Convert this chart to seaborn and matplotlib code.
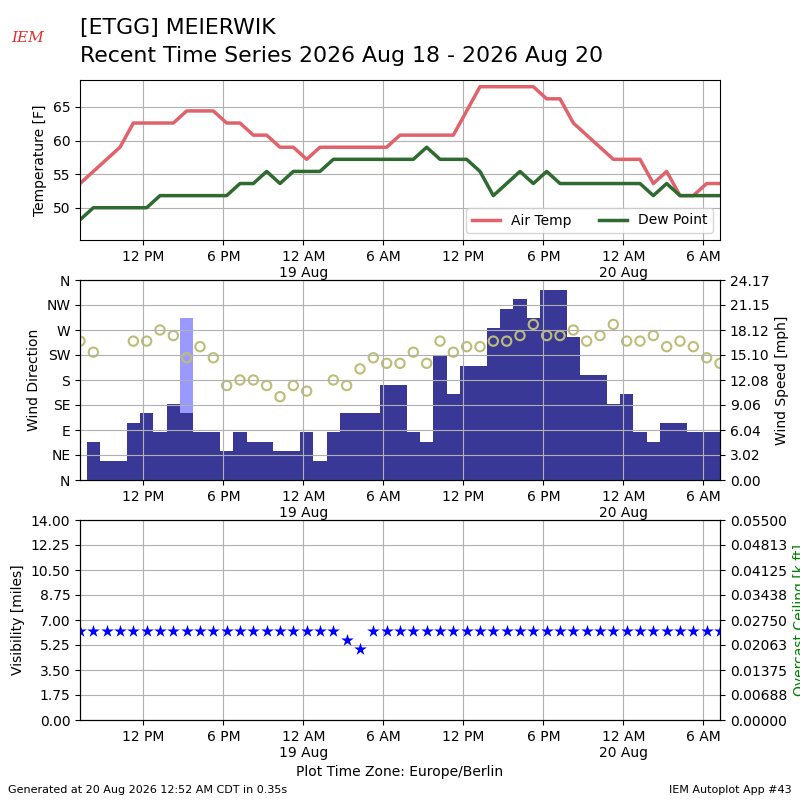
import matplotlib
matplotlib.use("Agg")
import matplotlib.pyplot as plt
import matplotlib.dates as mdates
from matplotlib.ticker import FuncFormatter, FormatStrFormatter
import seaborn as sns
import numpy as np
import pandas as pd

# hourly observations, local time (Europe/Berlin)
valid = pd.date_range("2026-08-18 07:15", periods=49, freq="h")

tmpf = [53.6, 55.4, 57.2, 59.0, 62.6, 62.6, 62.6, 62.6, 64.4, 64.4,
        64.4, 62.6, 62.6, 60.8, 60.8, 59.0, 59.0, 57.2, 59.0, 59.0,
        59.0, 59.0, 59.0, 59.0, 60.8, 60.8, 60.8, 60.8, 60.8, 64.4,
        68.0, 68.0, 68.0, 68.0, 68.0, 66.2, 66.2, 62.6, 60.8, 59.0,
        57.2, 57.2, 57.2, 53.6, 55.4, 51.8, 51.8, 53.6, 53.6]
dwpf = [48.2, 50.0, 50.0, 50.0, 50.0, 50.0, 51.8, 51.8, 51.8, 51.8,
        51.8, 51.8, 53.6, 53.6, 55.4, 53.6, 55.4, 55.4, 55.4, 57.2,
        57.2, 57.2, 57.2, 57.2, 57.2, 57.2, 59.0, 57.2, 57.2, 57.2,
        55.4, 51.8, 53.6, 55.4, 53.6, 55.4, 53.6, 53.6, 53.6, 53.6,
        53.6, 53.6, 53.6, 51.8, 53.6, 51.8, 51.8, 51.8, 51.8]

# wind speed / gust in knots, direction in degrees (nan = variable)
sknt = [0, 4, 2, 2, 6, 7, 5, 8, 7, 5,
        5, 3, 5, 4, 4, 3, 3, 5, 2, 5,
        7, 7, 7, 10, 10, 5, 4, 13, 9, 12,
        12, 16, 18, 19, 17, 20, 20, 15, 11, 11,
        8, 9, 5, 4, 6, 6, 5, 5, 5]
gust = [np.nan] * 8 + [17] + [np.nan] * 40
drct = [250, 230, np.nan, np.nan, 250, 250, 270, 260, 220, 240,
        220, 170, 180, 180, 170, 150, 170, 160, np.nan, 180,
        170, 200, 220, 210, 210, 230, 210, 250, 230, 240,
        240, 250, 250, 260, 280, 260, 260, 270, 250, 260,
        280, 250, 250, 260, 240, 250, 240, 220, 210]

vsby = [6.21] * 20 + [5.59, 4.97] + [6.21] * 27

df = pd.DataFrame({"valid": valid, "tmpf": tmpf, "dwpf": dwpf,
                   "smph": np.array(sknt) * 1.15078,
                   "gmph": np.array(gust) * 1.15078,
                   "drct": drct, "vsby": vsby})


def hourfmt(x, pos=None):
    dt = mdates.num2date(x)
    if dt.hour == 0:
        return "12 AM\n" + dt.strftime("%d %b")
    return dt.strftime("%-I %p")


def timeaxis(ax):
    ax.xaxis.set_major_locator(mdates.HourLocator(byhour=[0, 6, 12, 18]))
    ax.xaxis.set_major_formatter(FuncFormatter(hourfmt))
    ax.set_xlim(valid[0], valid[-1])
    ax.set_xlabel("")


fig = plt.figure(figsize=(8, 8), dpi=100)

fig.text(0.1, 0.965, "[ETGG] MEIERWIK", fontsize=15.8, va="center")
fig.text(0.1, 0.93, "Recent Time Series 2026 Aug 18 - 2026 Aug 20",
         fontsize=15.8, va="center")
fig.text(0.035, 0.952, "IEM", color="#e03030", fontsize=11,
         style="italic", family="serif", ha="center", va="center")
fig.text(0.01, 0.013, "Generated at 20 Aug 2026 12:52 AM CDT in 0.35s",
         fontsize=8, va="center")
fig.text(0.99, 0.013, "IEM Autoplot App #43", fontsize=8, ha="right",
         va="center")

# temperature
ax = fig.add_axes([0.1, 0.7, 0.8, 0.2])
sns.lineplot(data=df, x="valid", y="tmpf", ax=ax, color="#e0626a",
             lw=2.5, label="Air Temp")
sns.lineplot(data=df, x="valid", y="dwpf", ax=ax, color="#2f6a30",
             lw=2.5, label="Dew Point")
ax.set_ylim(min(dwpf) - 3, max(tmpf) + 1)
ax.set_yticks([50, 55, 60, 65])
ax.set_ylabel("Temperature [F]")
ax.grid(True)
ax.legend(loc="lower right", ncol=2)
timeaxis(ax)

# wind
ax2 = fig.add_axes([0.1, 0.4, 0.8, 0.25])
ax2b = ax2.twinx()
ax2.set_zorder(ax2b.get_zorder() + 1)
ax2.patch.set_visible(False)
ax2b.bar(df["valid"], df["gmph"], width=1 / 24., color="#9999ff")
ax2b.bar(df["valid"], df["smph"], width=1 / 24., color="#3a3897")
top = df["smph"].max() * 1.05
ax2b.set_ylim(0, top)
ax2b.set_yticks(np.linspace(0, top, 9))
ax2b.yaxis.set_major_formatter(FormatStrFormatter("%.2f"))
ax2b.set_ylabel("Wind Speed [mph]")
sns.scatterplot(data=df, x="valid", y="drct", ax=ax2, marker="o", s=45,
                facecolor="none", edgecolor="#bdbd78", linewidth=1.5)
ax2.set_ylim(0, 360)
ax2.set_yticks(range(0, 361, 45))
ax2.set_yticklabels(["N", "NE", "E", "SE", "S", "SW", "W", "NW", "N"])
ax2.set_ylabel("Wind Direction")
ax2.grid(True)
timeaxis(ax2)
timeaxis(ax2b)

# visibility
ax3 = fig.add_axes([0.1, 0.1, 0.8, 0.25])
sns.scatterplot(data=df, x="valid", y="vsby", ax=ax3, marker="*", s=90,
                color="b", edgecolor="b", linewidth=0, zorder=3)
ax3.set_ylim(0, 14)
ax3.set_yticks(np.linspace(0, 14, 9))
ax3.yaxis.set_major_formatter(FormatStrFormatter("%.2f"))
ax3.set_ylabel("Visibility [miles]")
ax3.grid(True)
timeaxis(ax3)
ax3.set_xlabel("Plot Time Zone: Europe/Berlin")
ax3b = ax3.twinx()
ax3b.set_ylim(0, 0.055)
ax3b.set_yticks(np.linspace(0, 0.055, 9))
ax3b.yaxis.set_major_formatter(FormatStrFormatter("%.5f"))
ax3b.set_ylabel("Overcast Ceiling [k ft]", color="g")

fig.savefig("out.png", dpi=100)
